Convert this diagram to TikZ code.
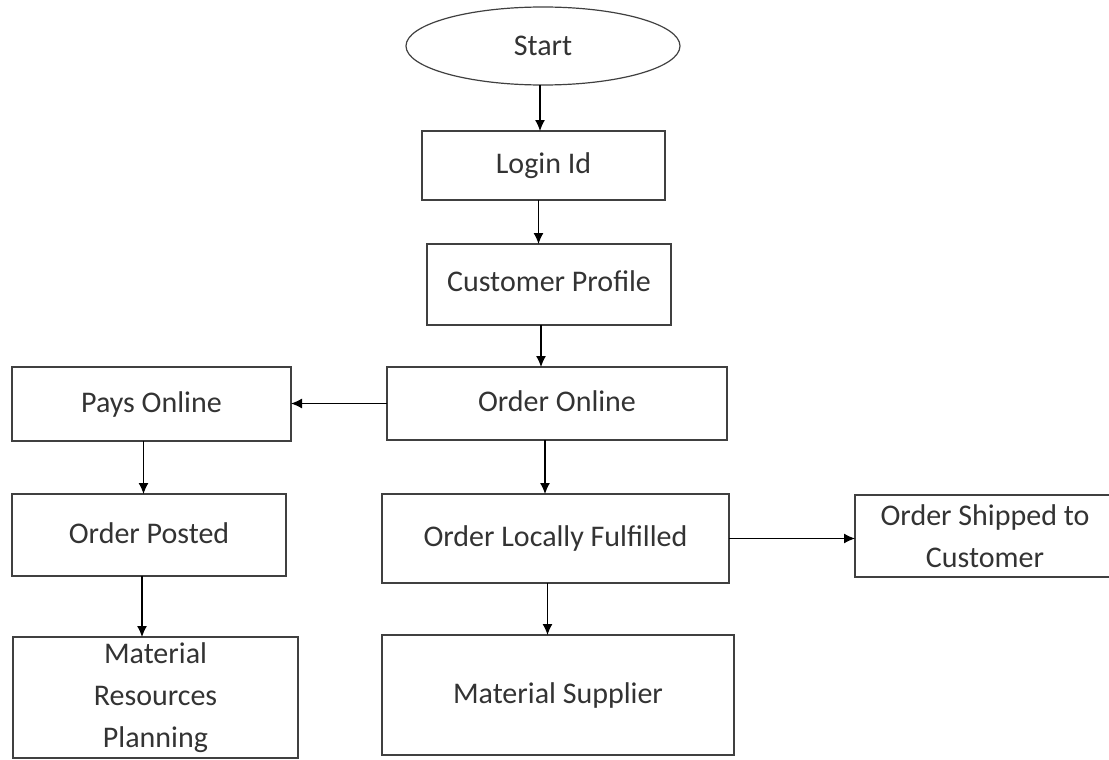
\documentclass[tikz,border=0pt]{standalone}
\usepackage{fontspec}
\setmainfont{Carlito}
\usetikzlibrary{shapes.geometric,arrows.meta}
\begin{document}
\begin{tikzpicture}[x=1pt,y=-1pt,inner sep=0pt,outer sep=0pt,line width=1.2pt,
>={Latex[length=11pt,width=10pt]},
procblock/.style={draw=black!75,rectangle,align=center,text=black!80,font=\fontsize{30}{42}\selectfont},
startblock/.style={draw=black!75,ellipse,text=black!80,font=\fontsize{30}{42}\selectfont}]
\useasboundingbox (0,0) rectangle (1109,760);
\clip (0,0) rectangle (1109,760);
\draw (543,46) node[startblock,minimum width=274pt,minimum height=78pt] (Start) {Start};
\draw (543.5,165.5) node[procblock,minimum width=243pt,minimum height=69pt] (Login) {\raisebox{3pt}{Login Id}};
\draw (549,284.5) node[procblock,minimum width=244pt,minimum height=81pt] (Profile) {\raisebox{6pt}{Customer Profile}};
\draw (557,403.5) node[procblock,minimum width=340pt,minimum height=73pt] (Online) {\raisebox{5pt}{Order Online}};
\draw (151.5,404) node[procblock,minimum width=279pt,minimum height=74pt] (Pays) {\raisebox{3pt}{Pays Online}};
\draw (149,535) node[procblock,minimum width=274pt,minimum height=82pt] (Posted) {\raisebox{4pt}{Order Posted}};
\draw (555.5,538.5) node[procblock,minimum width=347pt,minimum height=89pt] (Local) {\raisebox{4pt}{Order Locally Fulfilled}};
\draw (995,536) node[procblock,minimum width=280pt,minimum height=82pt] (Shipped) {\hspace*{-20pt}Order Shipped to\\\hspace*{-20pt}Customer};
\draw (155.5,697.5) node[procblock,minimum width=285pt,minimum height=121pt] (MRP) {Material\\Resources\\Planning};
\draw (558,695) node[procblock,minimum width=352pt,minimum height=120pt] (Supplier) {\raisebox{3pt}{Material Supplier}};
% connectors
\draw[->] ([xshift=-3pt]Start.south) -- ([xshift=-3pt]Start.south |- Login.north);
\draw[->] ([xshift=-5pt]Login.south) -- ([xshift=-5pt]Login.south |- Profile.north);
\draw[->] ([xshift=-8pt]Profile.south) -- ([xshift=-8pt]Profile.south |- Online.north);
\draw[->] (Online.west) -- (Online.west -| Pays.east);
\draw[->] ([xshift=-12pt]Online.south) -- ([xshift=-12pt]Online.south |- Local.north);
\draw[->] ([xshift=-8pt]Pays.south) -- ([xshift=-8pt]Pays.south |- Posted.north);
\draw[->] ([xshift=-7pt]Posted.south) -- ([xshift=-7pt]Posted.south |- MRP.north);
\draw[->] (Local.east) -- (Local.east -| Shipped.west);
\draw[->] ([xshift=-8pt]Local.south) -- ([xshift=-8pt]Local.south |- Supplier.north);
\end{tikzpicture}
\end{document}
